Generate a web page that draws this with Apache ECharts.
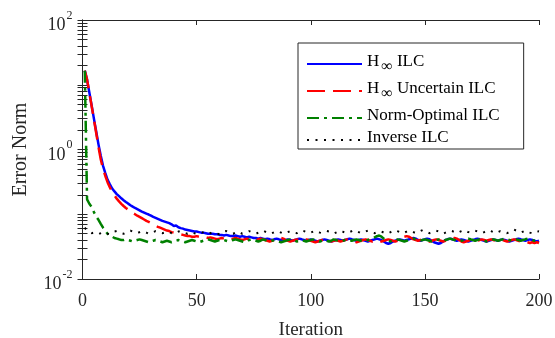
<!DOCTYPE html>
<html>
<head>
<meta charset="utf-8">
<script src="https://cdn.jsdelivr.net/npm/echarts@6/dist/echarts.min.js"></script>
<style>html,body{margin:0;padding:0;background:#fff}#c{width:555px;height:338px}</style>
</head>
<body>
<div id="c"></div>
<script>
// ---- data ----
const seriesNames = ['H∞ ILC', 'H∞ Uncertain ILC', 'Norm-Optimal ILC', 'Inverse ILC'];
const xTicks = [0, 50, 100, 150, 200];
const yTickLabels = [0.01, 1, 100];

const hinfILC = [
16.5,12,7.6,4.8,3.0,1.9,1.2,0.8,0.56,0.43,0.34,0.29,0.25,0.225,0.205,0.19,0.176,0.165,0.155,0.146,0.138,0.131,0.125,0.12,0.115,
0.11,0.106,0.102,0.099,0.095,0.091,0.088,0.085,0.082,0.079,0.077,0.075,0.073,0.07,0.066,0.067,0.063,0.061,0.06,0.058,0.057,0.056,0.055,0.054,0.054,
0.053,0.052,0.052,0.051,0.05,
0.050,0.050,0.049,0.049,0.048,0.048,0.047,0.048,0.047,0.046,0.046,0.047,0.046,0.045,0.046,0.045,0.044,0.045,0.044,0.043,
0.043,0.042,0.043,0.042,0.041,0.042,0.041,0.040,0.041,0.042,0.041,0.040,0.039,0.040,0.041,0.040,0.039,0.040,0.041,0.042,0.041,0.040,0.039,0.040,0.041,
0.040,0.039,0.038,0.039,0.040,0.041,0.040,0.039,0.038,0.039,0.040,0.041,0.040,0.039,0.040,0.041,0.042,0.041,0.040,0.039,0.040,0.041,0.040,0.039,0.038,
0.039,0.040,0.041,0.042,0.041,0.040,0.038,0.036,0.035,0.036,0.038,0.039,0.040,0.041,0.040,0.039,0.040,0.041,0.042,0.043,0.042,0.040,0.039,0.040,0.041,
0.042,0.041,0.039,0.037,0.036,0.035,0.036,0.038,0.040,0.041,0.042,0.041,0.040,0.039,0.040,0.041,0.040,0.039,0.038,0.039,0.040,0.041,0.042,0.041,0.040,
0.039,0.038,0.039,0.040,0.041,0.040,0.039,0.040,0.041,0.040,0.039,0.038,0.039,0.040,0.041,0.042,0.041,0.040,0.039,0.040,0.041,0.040,0.039,0.038,0.039
];

const hinfUncertainILC = [
16.5,12,7.5,4.7,2.9,1.8,1.1,0.7,0.5,0.39,0.31,0.26,0.22,0.195,0.174,0.158,0.145,0.134,0.125,0.118,0.11,0.105,0.1,0.095,0.091,
0.087,0.083,0.079,0.076,0.073,0.07,0.067,0.064,0.062,0.06,0.058,0.056,0.055,0.053,0.052,0.051,0.05,0.049,
0.048,0.047,0.046,0.046,0.045,0.045,0.046,0.045,0.044,0.045,0.044,0.043,
0.044,0.043,0.042,0.041,0.042,0.043,0.042,0.041,0.040,0.041,0.042,0.043,0.042,0.041,0.040,0.041,0.042,0.041,0.040,0.039,
0.040,0.041,0.042,0.041,0.040,0.039,0.038,0.039,0.040,0.041,0.042,0.043,0.042,0.040,0.039,0.038,0.039,0.040,0.041,0.040,0.039,0.040,0.041,0.040,0.039,
0.038,0.037,0.038,0.039,0.040,0.041,0.040,0.039,0.038,0.039,0.040,0.039,0.038,0.039,0.040,0.041,0.040,0.039,0.038,0.037,0.038,0.039,0.040,0.041,0.040,
0.039,0.038,0.039,0.040,0.039,0.038,0.039,0.040,0.041,0.040,0.039,0.038,0.039,0.041,0.043,0.045,0.046,0.045,0.043,0.041,0.040,0.039,0.040,0.041,0.040,
0.039,0.038,0.039,0.040,0.041,0.040,0.039,0.038,0.039,0.040,0.041,0.042,0.043,0.042,0.040,0.038,0.037,0.038,0.039,0.040,0.039,0.038,0.039,0.040,0.041,
0.040,0.039,0.040,0.041,0.040,0.039,0.038,0.039,0.040,0.039,0.038,0.039,0.040,0.041,0.040,0.039,0.038,0.039,0.038,0.037,0.036,0.037,0.036,0.037,0.036
];

const normOptimalILC = [
16.5,0.17,0.145,0.13,0.108,0.092,0.082,0.071,0.062,0.055,0.05,0.047,0.045,0.043,0.042,0.041,0.040,
0.040,0.041,0.040,0.039,0.038,0.039,0.040,0.041,0.040,0.039,0.038,0.037,0.038,0.039,0.040,0.039,0.038,0.037,0.038,0.039,0.038,0.037,0.038,
0.039,0.040,0.039,0.038,0.037,0.038,0.039,0.040,0.039,0.038,0.037,0.038,0.039,0.040,0.041,0.040,0.039,0.038,0.039,0.040,0.041,0.040,0.039,0.038,0.039,
0.040,0.041,0.040,0.039,0.038,0.037,0.038,0.040,0.041,0.040,0.039,0.038,0.039,0.041,0.040,0.039,0.038,0.039,0.040,0.039,0.038,0.037,0.038,0.039,0.040,
0.041,0.040,0.039,0.038,0.039,0.040,0.039,0.038,0.039,0.040,0.041,0.040,0.039,0.038,0.039,0.040,0.039,0.038,0.039,0.041,0.040,0.039,0.038,0.039,0.040,
0.041,0.040,0.039,0.040,0.041,0.040,0.039,0.038,0.039,0.040,0.041,0.042,0.044,0.046,0.047,0.045,0.042,0.040,0.039,0.038,0.039,0.040,0.041,0.040,0.039,
0.038,0.039,0.040,0.041,0.042,0.041,0.040,0.039,0.040,0.041,0.040,0.039,0.038,0.039,0.040,0.041,0.040,0.039,0.040,0.041,0.042,0.041,0.040,0.039,0.038,
0.039,0.040,0.041,0.042,0.041,0.040,0.039,0.040,0.041,0.040,0.039,0.038,0.039,0.040,0.041,0.040,0.039,0.040,0.041,0.042,0.041,0.040,0.039,0.040,0.041,
0.040,0.039,0.040,0.041,0.042,0.041,0.040,0.039,0.040,0.041
];

const inverseILC = [
0.062,0.056,0.053,0.051,0.052,0.050,0.049,0.051,0.053,0.052,0.050,0.049,0.051,0.054,0.055,0.053,0.051,0.050,0.052,0.054,0.056,0.054,0.052,0.051,0.053,
0.055,0.054,0.052,0.050,0.051,0.053,0.055,0.054,0.052,0.051,0.052,0.054,0.053,0.051,0.050,0.052,0.054,0.055,0.053,0.051,0.050,0.052,0.053,0.051,0.050,
0.051,0.053,0.052,0.050,0.049,0.051,0.053,0.052,0.050,0.049,0.051,0.054,0.055,0.053,0.051,0.050,0.052,0.054,0.052,0.050,0.051,0.053,0.055,0.053,0.051,
0.050,0.052,0.054,0.056,0.054,0.052,0.050,0.051,0.053,0.055,0.054,0.052,0.050,0.051,0.053,0.055,0.054,0.052,0.051,0.053,0.056,0.055,0.053,0.051,0.052,
0.054,0.056,0.054,0.052,0.051,0.053,0.055,0.054,0.052,0.050,0.052,0.054,0.056,0.054,0.052,0.051,0.053,0.055,0.057,0.055,0.053,0.051,0.052,0.054,0.056,
0.054,0.052,0.051,0.053,0.055,0.054,0.052,0.050,0.051,0.053,0.055,0.057,0.055,0.053,0.051,0.052,0.054,0.056,0.055,0.053,0.051,0.053,0.055,0.057,0.055,
0.053,0.051,0.052,0.054,0.056,0.054,0.052,0.050,0.052,0.054,0.056,0.055,0.053,0.051,0.053,0.055,0.057,0.055,0.053,0.052,0.054,0.056,0.054,0.052,0.051,
0.053,0.055,0.057,0.055,0.053,0.051,0.053,0.055,0.054,0.052,0.051,0.053,0.056,0.058,0.056,0.053,0.052,0.054,0.056,0.054,0.052,0.051,0.053,0.055,0.054
];

// ---- build ----
const FONT = '"Liberation Serif", "DejaVu Serif", serif';
const AX = '#262626';
const toPairs = arr => arr.map((v, i) => [i + 1, v]);

// log minor tick positions: 1..9 x 10^k
const decades = [0.01, 0.1, 1, 10];
const mult = [1, 2, 3, 4, 5, 6, 7, 8, 9];
const logTicks = [];
decades.forEach(d => mult.forEach(m => logTicks.push(+(d * m).toPrecision(3))));
logTicks.push(100);

const yLabelFmt = v => {
  const e = Math.round(Math.log10(v));
  return '{b|10}{s|' + e + '}';
};
const yRich = {
  b: { fontFamily: FONT, fontSize: 18, color: AX, lineHeight: 29, verticalAlign: 'bottom' },
  s: { fontFamily: FONT, fontSize: 12, color: AX, lineHeight: 29, verticalAlign: 'top', padding: [4, 0, 0, 1] }
};

const legendFmt = name => {
  if (name.indexOf('H∞') === 0) {
    return '{t|H}{sub|∞}{t|' + name.slice(2) + '}';
  }
  return '{t|' + name + '}';
};

const chart = echarts.init(document.getElementById('c'), null, { renderer: 'canvas' });
const yBase = {
  type: 'log', logBase: 10, min: 0.01, max: 100,
  axisLine: { show: true, lineStyle: { color: AX, width: 1 } },
  splitLine: { show: false },
  axisTick: { show: true, inside: true, length: 5, lineStyle: { color: AX }, customValues: logTicks },
};
const xBase = {
  type: 'value', min: 0, max: 200, interval: 50,
  axisLine: { show: true, lineStyle: { color: AX, width: 1 } },
  splitLine: { show: false },
  axisTick: { show: true, inside: true, length: 5, lineStyle: { color: AX } },
};

chart.setOption({
  animation: false,
  backgroundColor: '#fff',
  grid: { left: 82.5, right: 16, top: 20, bottom: 59, containLabel: false, outerBoundsMode: 'none' },
  xAxis: [
    Object.assign({}, xBase, {
      position: 'bottom',
      name: 'Iteration', nameLocation: 'middle', nameGap: 42,
      nameTextStyle: { fontFamily: FONT, fontSize: 19, color: AX },
      axisLabel: { show: true, margin: 13, fontFamily: FONT, fontSize: 18, color: AX, customValues: xTicks }
    }),
    Object.assign({}, xBase, { position: 'top', axisLabel: { show: false } })
  ],
  yAxis: [
    Object.assign({}, yBase, {
      position: 'left',
      name: 'Error Norm', nameLocation: 'middle', nameGap: 52,
      nameTextStyle: { fontFamily: FONT, fontSize: 20, color: AX },
      axisLabel: { show: true, margin: 10, formatter: yLabelFmt, rich: yRich, customValues: yTickLabels }
    }),
    Object.assign({}, yBase, { position: 'right', axisLabel: { show: false } })
  ],
  legend: {
    orient: 'vertical', left: 298, top: 43,
    itemWidth: 55, itemHeight: 14, itemGap: 5,
    padding: [10, 24, 3, 8],
    backgroundColor: '#fff', borderColor: AX, borderWidth: 1,
    data: seriesNames,
    formatter: legendFmt,
    itemStyle: { opacity: 0 },
    textStyle: {
      rich: {
        t: { fontFamily: FONT, fontSize: 17, color: '#000', lineHeight: 22, verticalAlign: 'top' },
        sub: { fontFamily: FONT, fontSize: 16, color: '#000', lineHeight: 22, verticalAlign: 'bottom', padding: [0, 0, 0, 2] }
      }
    }
  },
  series: [
    { name: seriesNames[0], type: 'line', symbol: 'none', data: toPairs(hinfILC), lineStyle: { color: '#0000ff', width: 2.5, type: 'solid' }, itemStyle: { color: '#0000ff' } },
    { name: seriesNames[1], type: 'line', symbol: 'none', data: toPairs(hinfUncertainILC), lineStyle: { color: '#ff0000', width: 2.5, type: [18, 8] }, itemStyle: { color: '#ff0000' } },
    { name: seriesNames[2], type: 'line', symbol: 'none', data: toPairs(normOptimalILC), lineStyle: { color: '#008000', width: 2.5, type: [12, 5, 3, 5] }, itemStyle: { color: '#008000' } },
    { name: seriesNames[3], type: 'line', symbol: 'none', data: toPairs(inverseILC), lineStyle: { color: '#000000', width: 2, type: [2, 6.5] }, itemStyle: { color: '#000000' } }
  ]
});
</script>
</body>
</html>
